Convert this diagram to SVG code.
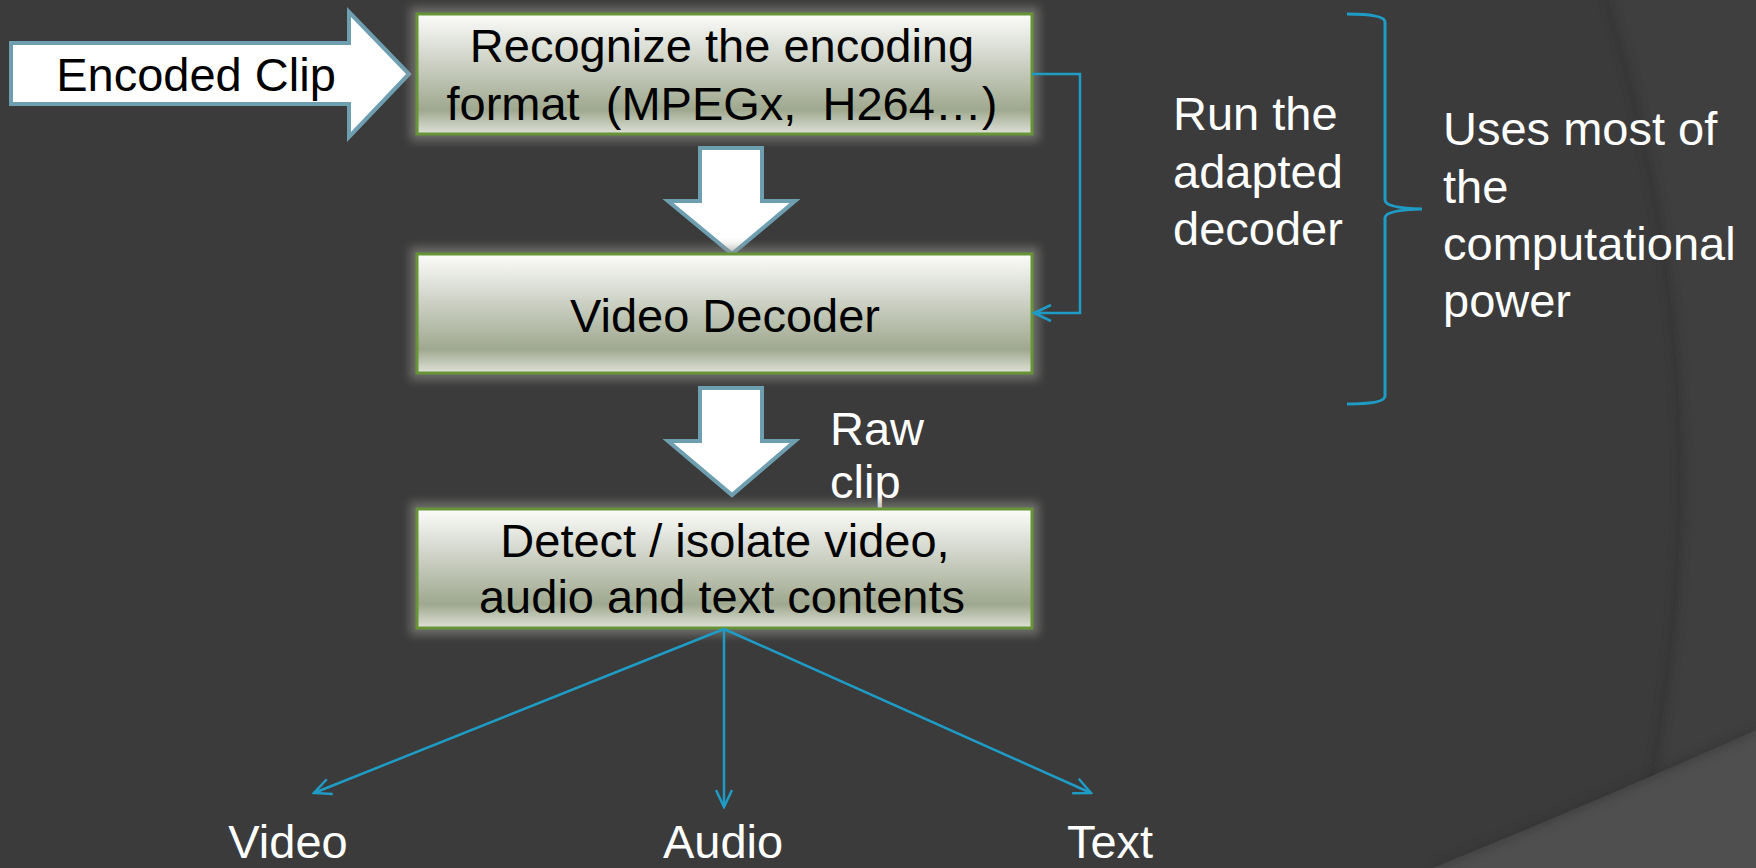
<svg xmlns="http://www.w3.org/2000/svg" width="1756" height="868" viewBox="0 0 1756 868">
  <defs>
    <style>
      .bg { fill: #3b3b3b; }
      .box { fill: url(#boxFill); stroke: #679436; stroke-width: 3; }
      .halo { fill: #8e8f88; opacity: 0.6; filter: url(#soft); }
      .fat { fill: #ffffff; stroke: #6e9fb1; stroke-width: 4; stroke-linejoin: miter; }
      .dark { font-family: "Liberation Sans", Arimo, Arial, sans-serif; font-size: 47px; fill: #000000; }
      .light { font-family: "Liberation Sans", Arimo, Arial, sans-serif; font-size: 47px; fill: #ffffff; }
      .link { fill: none; stroke: #1f9cc6; stroke-width: 2.5; }
      .brace { fill: none; stroke: #1f9cc6; stroke-width: 3; }
    </style>
    <linearGradient id="boxFill" x1="0" y1="0" x2="0" y2="1">
      <stop offset="0" stop-color="#fcfcfa"/>
      <stop offset="0.35" stop-color="#d3d7cc"/>
      <stop offset="0.8" stop-color="#9fa88f"/>
      <stop offset="1" stop-color="#dfe2d8"/>
    </linearGradient>
    <filter id="soft" x="-20%" y="-40%" width="140%" height="180%">
      <feGaussianBlur stdDeviation="5"/>
    </filter>
    <filter id="edgeShade" x="-20%" y="-20%" width="140%" height="140%">
      <feGaussianBlur stdDeviation="4"/>
    </filter>
    <marker id="chev" viewBox="-20 -10 22 20" refX="0" refY="0" markerWidth="22" markerHeight="20" markerUnits="userSpaceOnUse" orient="auto">
      <path d="M -17 -8 L 0 0 L -17 8" fill="none" stroke="#1f9cc6" stroke-width="2.5"/>
    </marker>
  </defs>

  <!-- backdrop with the curved panels at the right -->
  <rect class="bg" x="0" y="0" width="1756" height="868"/>
  <path d="M 1608 0 Q 1740 430 1633 868 L 1756 868 L 1756 0 Z" fill="#3f3f3f"/>
  <path d="M 1608 0 Q 1740 430 1633 868" fill="none" stroke="#2e2e2e" stroke-width="6" opacity="0.6" filter="url(#edgeShade)"/>
  <path d="M 1433 868 Q 1600 800 1756 730 L 1756 868 Z" fill="#4f4f4f"/>
  <path d="M 1433 868 Q 1600 800 1756 730" fill="none" stroke="#2f2f2f" stroke-width="6" opacity="0.5" filter="url(#edgeShade)"/>

  <!-- input arrow -->
  <g id="encoded-clip">
    <path class="fat" d="M 11 43 L 349 43 L 349 12 L 409 74 L 349 137 L 349 104 L 11 104 Z"/>
    <text class="dark" x="196" y="91" text-anchor="middle">Encoded Clip</text>
  </g>

  <!-- step 1 -->
  <g id="recognize">
    <rect class="halo" x="410" y="7" width="629" height="134"/>
    <rect class="box" x="417" y="14" width="615" height="120"/>
    <text class="dark" x="722" y="62" text-anchor="middle">Recognize the encoding</text>
    <text class="dark" x="722" y="120" text-anchor="middle" xml:space="preserve">format  (MPEGx,  H264…)</text>
  </g>

  <g id="down-1">
    <path class="fat" d="M 700 148 L 762 148 L 762 201 L 795 201 L 732 254 L 668 201 L 700 201 Z"/>
  </g>

  <!-- step 2 -->
  <g id="video-decoder">
    <rect class="halo" x="410" y="247" width="629" height="133"/>
    <rect class="box" x="417" y="254" width="615" height="119"/>
    <text class="dark" x="725" y="332" text-anchor="middle">Video Decoder</text>
  </g>

  <g id="down-2">
    <path class="fat" d="M 700 388 L 762 388 L 762 441 L 795 441 L 732 495 L 668 441 L 700 441 Z"/>
  </g>

  <g id="raw-clip">
    <text class="light" x="830" y="445">Raw</text>
    <text class="light" x="830" y="498">clip</text>
  </g>

  <!-- step 3 -->
  <g id="detect">
    <rect class="halo" x="410" y="502" width="629" height="133"/>
    <rect class="box" x="417" y="509" width="615" height="119"/>
    <text class="dark" x="725" y="557" text-anchor="middle">Detect / isolate video,</text>
    <text class="dark" x="722" y="613" text-anchor="middle">audio and text contents</text>
  </g>

  <!-- outputs -->
  <g id="out-video"><text class="light" x="288" y="858" text-anchor="middle">Video</text></g>
  <g id="out-audio"><text class="light" x="723" y="858" text-anchor="middle">Audio</text></g>
  <g id="out-text"><text class="light" x="1110" y="858" text-anchor="middle">Text</text></g>

  <!-- note on the decoding stage -->
  <g id="brace-note">
    <path class="brace" d="M 1347 14 Q 1385 14 1385 22 L 1385 200 Q 1385 208 1422 209 Q 1385 210 1385 218 L 1385 396 Q 1385 404 1347 404"/>
    <text class="light" x="1173" y="130">Run the</text>
    <text class="light" x="1173" y="188">adapted</text>
    <text class="light" x="1173" y="245">decoder</text>
    <text class="light" x="1443" y="145">Uses most of</text>
    <text class="light" x="1443" y="203">the</text>
    <text class="light" x="1443" y="260">computational</text>
    <text class="light" x="1443" y="317">power</text>
  </g>

  <!-- connectors -->
  <g id="connectors">
    <path class="link" d="M 1032 74 L 1080 74 L 1080 313 L 1034 313" marker-end="url(#chev)"/>
    <path class="link" d="M 724 629 L 314 793" marker-end="url(#chev)"/>
    <path class="link" d="M 724 629 L 724 807" marker-end="url(#chev)"/>
    <path class="link" d="M 724 629 L 1091 793" marker-end="url(#chev)"/>
  </g>
</svg>
